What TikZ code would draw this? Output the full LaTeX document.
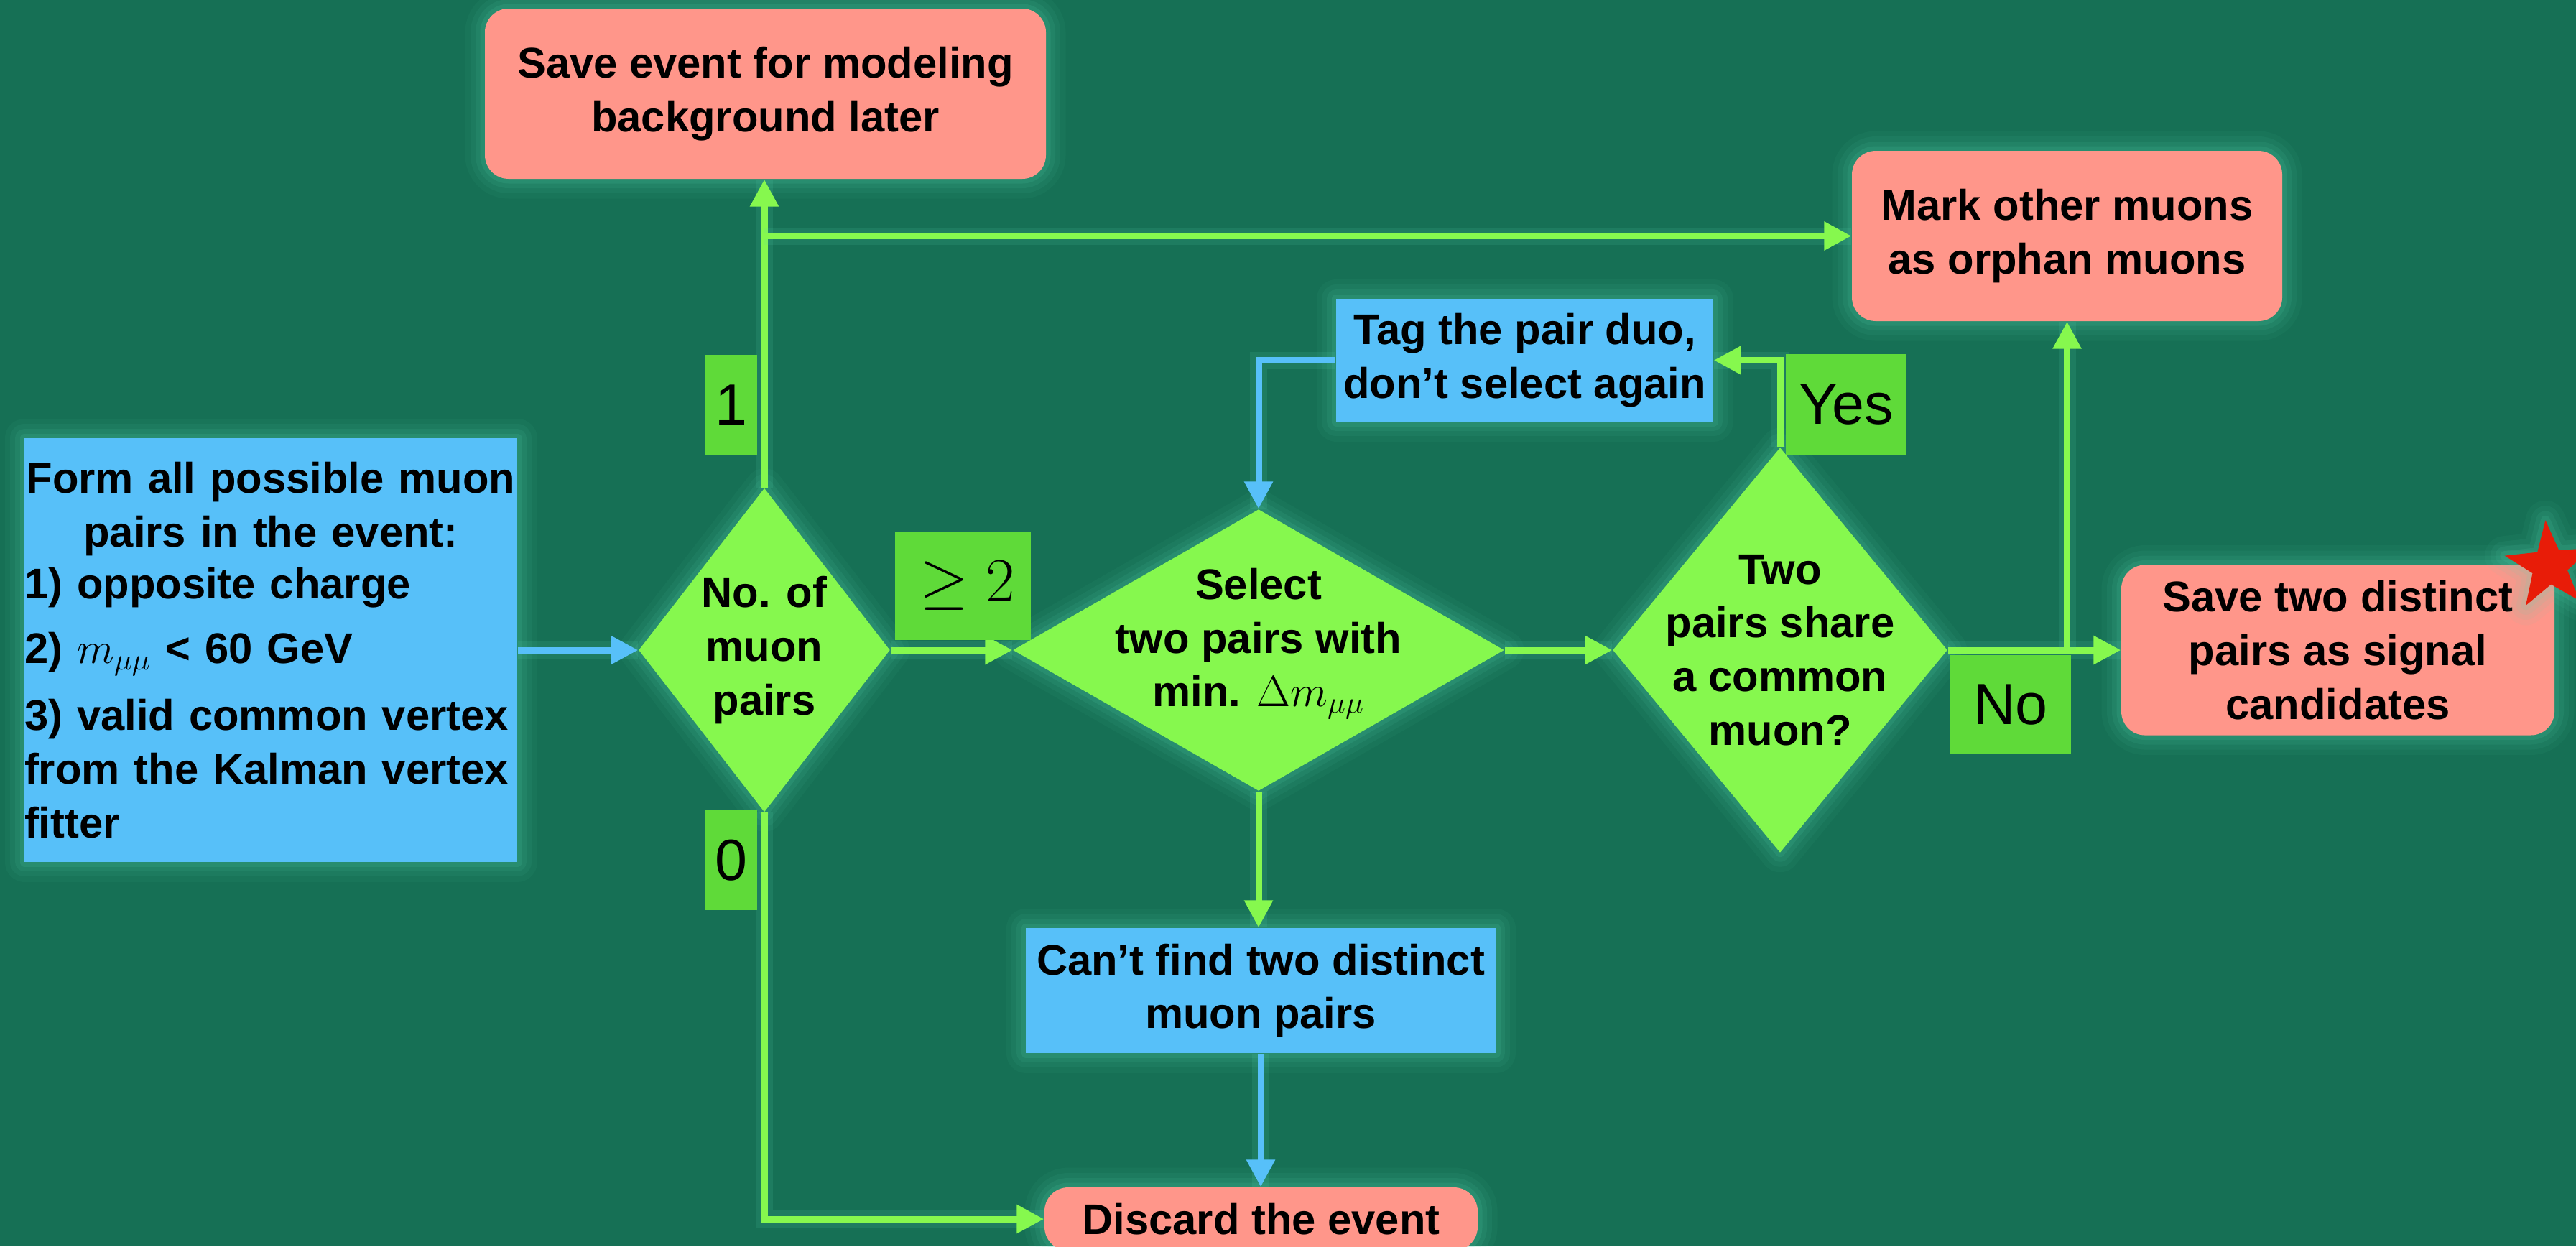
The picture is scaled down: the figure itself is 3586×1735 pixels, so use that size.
\documentclass[tikz,border=0pt]{standalone}
\usepackage{fontspec}
\setmainfont{Liberation Sans}
\usetikzlibrary{arrows.meta,shapes.geometric}
\definecolor{bg}{RGB}{22,112,85}
\definecolor{bluebox}{RGB}{87,192,249}
\definecolor{pinkbox}{RGB}{255,150,138}
\definecolor{dgreen}{RGB}{134,248,78}
\definecolor{lgreen}{RGB}{95,218,57}
\definecolor{glowc}{RGB}{90,215,180}
\definecolor{starred}{RGB}{232,28,8}
\tikzset{
  glow/.style={
    preaction={draw=glowc,draw opacity=0.05,line width=5.5mm,line join=round},
    preaction={draw=glowc,draw opacity=0.07,line width=4mm,line join=round},
    preaction={draw=glowc,draw opacity=0.09,line width=2.6mm,line join=round},
    preaction={draw=glowc,draw opacity=0.12,line width=1.3mm,line join=round}},
  lglow/.style={preaction={draw=glowc,draw opacity=0.12,line width=2.4mm,-}},
  txt/.style={font=\fontsize{17}{21.3}\selectfont\bfseries, align=center, text=black},
  bluerect/.style={txt, fill=bluebox, inner sep=0pt, glow},
  pinkrect/.style={txt, fill=pinkbox, rounded corners=3.3mm, inner sep=0pt, glow},
  dia/.style={diamond, fill=dgreen, inner sep=0pt, glow},
  lab/.style={fill=lgreen, inner sep=0pt, font=\fontsize{23}{25}\selectfont, text=black},
  garrow/.style={draw=dgreen, line width=0.9mm, lglow, -{Triangle[length=3.8mm,width=3.8mm]}},
  barrow/.style={draw=bluebox, line width=0.9mm, lglow, -{Triangle[length=3.8mm,width=3.8mm]}},
}
\begin{document}
\begin{tikzpicture}[x=0.1mm,y=-0.1mm]
\useasboundingbox (0,0) rectangle (3586,1735);
\clip (0,0) rectangle (3586,1735);
\fill[bg] (0,0) rectangle (3586,1735);

% boxes
\node[pinkrect, minimum width=78.1mm, minimum height=23.7mm] (save) at (1065.5,130.5)
  {Save event for modeling\\background later};
\node[pinkrect, minimum width=59.9mm, minimum height=23.7mm] (mark) at (2877.5,328.5)
  {Mark other muons\\as orphan muons};
\node[pinkrect, minimum width=60.3mm, minimum height=23.7mm] (save2) at (3254.5,905)
  {Save two distinct\\pairs as signal\\candidates};
\node[bluerect, minimum width=52.5mm, minimum height=17.1mm] (tag) at (2122.5,501.5)
  {Tag the pair duo,\\don’t select again};
\node[bluerect, minimum width=65.4mm, minimum height=17.4mm] (cant) at (1755,1379)
  {Can’t find two distinct\\muon pairs};
\node[pinkrect, minimum width=60.3mm, minimum height=8.8mm] (discard) at (1755.5,1697)
  {Discard the event};
\node[bluerect, minimum width=68.6mm, minimum height=59mm, text width=68.6mm, align=left] (form) at (377,905)
  {\makebox[68.6mm][c]{Form all possible muon}\\
   \makebox[68.6mm][c]{pairs in the event:}\\[-0.8pt]
   1) opposite charge\\[4.3pt]
   2) $m_{\mu\mu}$ < 60 GeV\\[5.2pt]
   3) valid common vertex\\
   from the Kalman vertex\\
   fitter};

% diamonds
\node[dia, minimum width=35mm, minimum height=45.1mm] (d1) at (1064,905) {};
\node[txt] (d1t) at (1064,905) {No. of\\muon\\pairs};
\node[dia, minimum width=68.4mm, minimum height=39.2mm] (d2) at (1752,905) {};
\node[txt] (d2t) at (1752,896) {Select\\two pairs with\\min. $\Delta m_{\mu\mu}$};
\node[dia, minimum width=46.6mm, minimum height=56.4mm] (d3) at (2478,905) {};
\node[txt] (d3t) at (2478,905) {Two\\pairs share\\a common\\muon?};

% star
\node[star, star points=5, star point ratio=2.5, minimum size=12.8mm, inner sep=0pt,
      fill=starred, rotate=5, glow] (star) at (3549,788) {};

% connectors
\draw[barrow] (form.east) -- (d1.west);
\draw[garrow] (d1.north) -- (d1.north |- save.south);
\draw[garrow] (d1.north |- mark.west) -- (mark.west);
\draw[garrow] (d1.east) -- (d2.west);
\draw[garrow] (d2.east) -- (d3.west);
\draw[garrow] (d3.east) -- (save2.west);
\draw[garrow] (mark.south |- d3.east) -- (mark.south);
\draw[garrow] (d3.north) |- (tag.east);
\draw[barrow] (tag.west) -| (d2.north);
\draw[garrow] (d2.south) -- (d2.south |- cant.north);
\draw[barrow] (cant.south) -- (cant.south |- discard.north);
\draw[garrow] (d1.south) |- (discard.west);

% labels
\node[lab, minimum width=7.2mm, minimum height=13.9mm] (l1) at (1018,563.5) {1};
\node[lab, minimum width=7.2mm, minimum height=13.9mm] (l0) at (1018,1197.5) {0};
\node[lab, minimum width=18.9mm, minimum height=15.1mm, font=\fontsize{29}{31}\selectfont] (lge) at (1340.5,815.5) {\hspace*{1.2mm}$\geq 2$};
\node[lab, minimum width=16.8mm, minimum height=14mm] (lyes) at (2570,563) {Yes};
\node[lab, minimum width=16.8mm, minimum height=13.8mm] (lno) at (2799,981) {No};
\end{tikzpicture}
\end{document}
